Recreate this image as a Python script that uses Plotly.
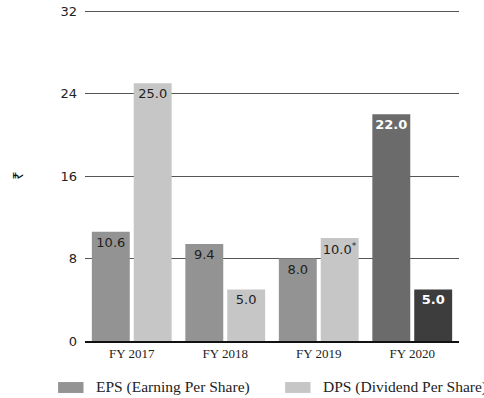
import plotly.graph_objects as go

categories = ["FY 2017", "FY 2018", "FY 2019", "FY 2020"]
eps_values = [10.6, 9.4, 8.0, 22.0]
dps_values = [25.0, 5.0, 10.0, 5.0]
eps_labels = ["10.6", "9.4", "8.0", "<b>22.0</b>"]
dps_labels = ["25.0", "5.0", "10.0<sup>*</sup>", "<b>5.0</b>"]
series_names = ["EPS (Earning Per Share)", "DPS (Dividend Per Share)"]
y_ticks = [0, 8, 16, 24, 32]
axis_title = "₹"

eps_colors = ["#939393", "#939393", "#939393", "#6b6b6b"]
dps_colors = ["#c6c6c6", "#c6c6c6", "#c6c6c6", "#3d3d3d"]
text_colors = ["#1e1e1e", "#1e1e1e", "#1e1e1e", "#ffffff"]

sans = "DejaVu Sans"
serif = "Liberation Serif"

fig = go.Figure()
for name, vals, labels, cols in [(series_names[0], eps_values, eps_labels, eps_colors),
                                 (series_names[1], dps_values, dps_labels, dps_colors)]:
    fig.add_trace(go.Bar(
        x=categories, y=vals, name=name, text=labels,
        textposition="inside", insidetextanchor="end", constraintext="none",
        textangle=0,
        textfont=dict(family=sans, size=13, color=text_colors),
        marker=dict(color=cols, line=dict(width=0)),
        showlegend=False, hoverinfo="skip",
    ))

# custom legend (paper coords relative to plot area: width 374, height 330)
legend_colors = ["#939393", "#c6c6c6"]
rect_x0 = [-0.072, 0.535]
for i, name in enumerate(series_names):
    fig.add_shape(type="rect", xref="paper", yref="paper",
                  x0=rect_x0[i], x1=rect_x0[i] + 0.068,
                  y0=-0.124, y1=-0.157, fillcolor=legend_colors[i], line=dict(width=0))
    fig.add_annotation(text=name, xref="paper", yref="paper",
                       x=rect_x0[i] + 0.095, y=-0.14, xanchor="left", yanchor="middle",
                       showarrow=False, font=dict(family=serif, size=15.5, color="#222"))

fig.update_layout(
    width=484, height=398,
    margin=dict(l=85, r=25, t=10, b=57),
    paper_bgcolor="white", plot_bgcolor="white",
    barmode="group", bargap=0.104, bargroupgap=0.095,
    xaxis=dict(tickfont=dict(family=serif, size=13, color="#222"), showline=True,
               linecolor="#111", linewidth=1.5, ticks="", showgrid=False, automargin=False),
    yaxis=dict(range=[0, 32.1], tickvals=y_ticks, showgrid=True, gridcolor="#555",
               gridwidth=1, zeroline=False, ticks="", ticklabelstandoff=7, automargin=False,
               tickfont=dict(family=sans, size=13, color="#222"),
               title=dict(text=axis_title, font=dict(family="Noto Sans", size=14, color="#111"), standoff=33)),
)

fig.write_html("out.html")
